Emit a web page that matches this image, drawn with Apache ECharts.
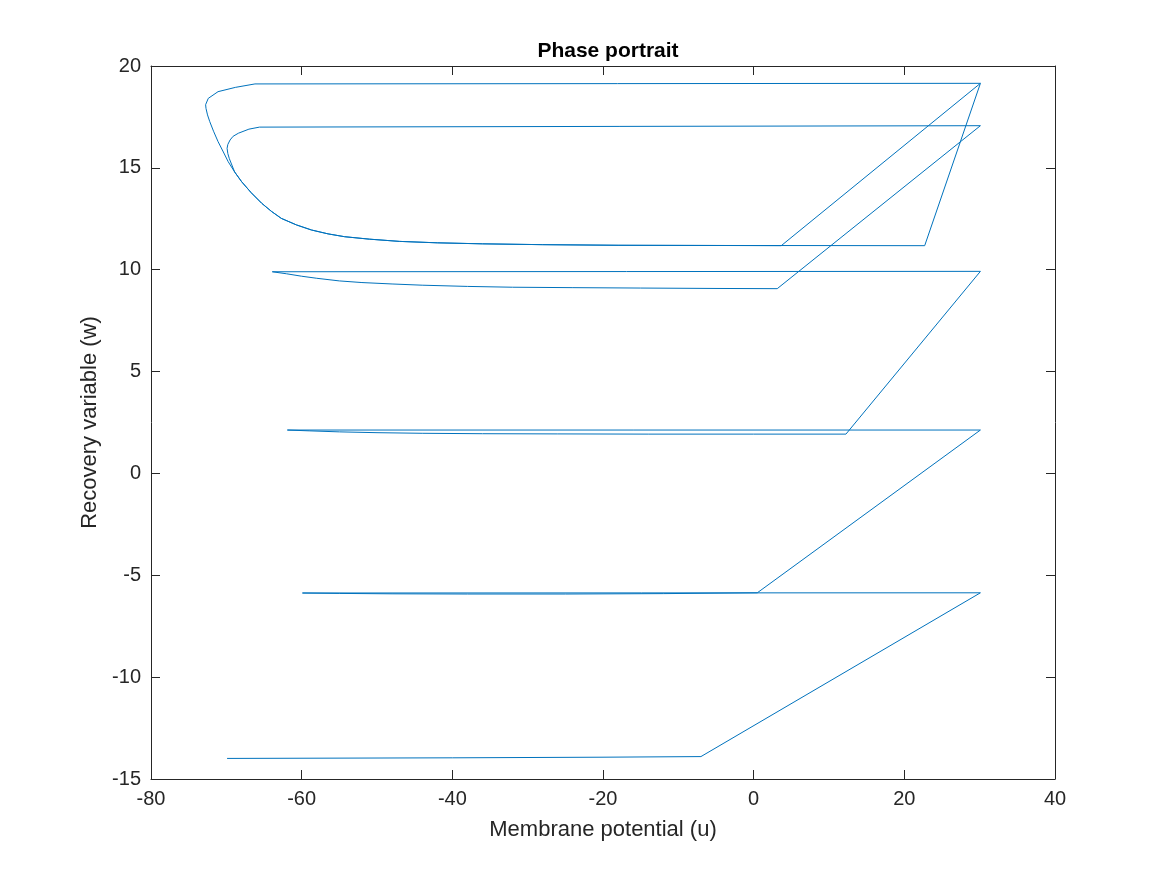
<!DOCTYPE html>
<html>
<head>
<meta charset="utf-8">
<title>Phase portrait</title>
<script src="https://cdn.jsdelivr.net/npm/echarts@6/dist/echarts.min.js"></script>
<style>
  html, body { margin: 0; padding: 0; background: #fff; }
  #chart { width: 1167px; height: 875px; }
</style>
</head>
<body>
<div id="chart"></div>
<script>
// trajectory, in drawing order
// membrane potential (u)
var uVals = [
  -69.9, -40, -20, -7.0,
  30.1, -59.9, -55, -48, -38, -25, -12, 0.48,
  30.1, -61.9, -59, -55, -50, -44, -36, -26, -14, 0, 12.25,
  30.1, -63.9, -62, -60, -58, -55, -52, -48, -44, -38, -32, -24, -15, -5, 3.13,
  30.1, -65.6, -67.0, -68.4, -69.1, -69.5, -69.8, -69.9, -69.8, -69.6,
  -68.9, -67.97, -66.7, -65.3, -64.0, -62.7, -60.7, -58.7, -56.5, -54.3, -51, -47, -42, -36, -28, -18, -5, 3.66,
  30.1, -66.2, -68.8, -71.1, -72.4, -72.75, -72.7, -72.5, -72.2, -71.7, -71.1, -70.4, -69.75,
  -68.9, -67.97, -66.7, -65.3, -64.0, -62.7, -60.7, -58.7, -56.5, -54.3, -51, -47, -42, -36, -28, -18, -5, 22.7,
  30.1
];
// recovery variable (w)
var wVals = [
  -13.99, -13.96, -13.93, -13.9,
  -5.86, -5.87, -5.89, -5.91, -5.92, -5.92, -5.9, -5.86,
  2.13, 2.13, 2.09, 2.04, 2.0, 1.97, 1.95, 1.94, 1.93, 1.93, 1.93,
  9.92, 9.9, 9.8, 9.68, 9.58, 9.45, 9.37, 9.3, 9.24, 9.18, 9.14, 9.12, 9.1, 9.08, 9.07,
  17.07, 17.0, 16.9, 16.7, 16.55, 16.37, 16.15, 15.96, 15.7, 15.45,
  14.8, 14.32, 13.78, 13.26, 12.86, 12.52, 12.2, 11.95, 11.76, 11.62, 11.5, 11.39, 11.32, 11.27, 11.23, 11.2, 11.19, 11.18,
  19.15, 19.12, 18.95, 18.74, 18.41, 18.1, 17.92, 17.6, 17.27, 16.8, 16.29, 15.78, 15.30,
  14.8, 14.32, 13.78, 13.26, 12.86, 12.52, 12.2, 11.95, 11.76, 11.62, 11.5, 11.39, 11.32, 11.27, 11.23, 11.2, 11.19, 11.18,
  19.15
];

var xTicks = [-80, -60, -40, -20, 0, 20, 40];
var yTicks = [-15, -10, -5, 0, 5, 10, 15, 20];

var points = [];
for (var i = 0; i < uVals.length; i++) {
  points.push([uVals[i], wVals[i]]);
}

var font = 'Helvetica, "Liberation Sans", Arial, sans-serif';
var ink = '#262626';

function boxAxis(pos, ticks, showLabel, extra) {
  var ax = {
    type: 'value',
    position: pos,
    min: ticks[0],
    max: ticks[ticks.length - 1],
    interval: ticks[1] - ticks[0],
    axisLine: { show: true, onZero: false, lineStyle: { color: ink, width: 1 } },
    axisTick: { show: true, inside: true, length: 9, lineStyle: { color: ink, width: 1 } },
    axisLabel: { show: showLabel, color: ink, fontSize: 20, fontFamily: font, margin: 10 },
    splitLine: { show: false }
  };
  for (var k in extra) ax[k] = extra[k];
  return ax;
}

var myChart = echarts.init(document.getElementById('chart'));

myChart.setOption({
  animation: false,
  backgroundColor: '#fff',
  title: {
    text: 'Phase portrait',
    left: 603,
    textAlign: 'center',
    top: 36,
    textStyle: { color: '#000', fontSize: 21, fontWeight: 'bold', fontFamily: font }
  },
  grid: { left: 151, right: 112, top: 66, bottom: 96, containLabel: false },
  xAxis: [
    boxAxis('bottom', xTicks, true, {
      name: 'Membrane potential (u)',
      nameLocation: 'middle',
      nameGap: 40,
      nameTextStyle: { color: ink, fontSize: 22, fontFamily: font }
    }),
    boxAxis('top', xTicks, false, {})
  ],
  yAxis: [
    boxAxis('left', yTicks, true, {
      name: 'Recovery variable (w)',
      nameLocation: 'middle',
      nameGap: 42,
      nameTextStyle: { color: ink, fontSize: 22, fontFamily: font }
    }),
    boxAxis('right', yTicks, false, {})
  ],
  series: [
    {
      name: 'trajectory',
      type: 'line',
      xAxisIndex: 0,
      yAxisIndex: 0,
      data: points,
      showSymbol: false,
      symbol: 'none',
      smooth: false,
      lineStyle: { color: '#0072BD', width: 1 },
      itemStyle: { color: '#0072BD' }
    }
  ]
});
</script>
</body>
</html>
